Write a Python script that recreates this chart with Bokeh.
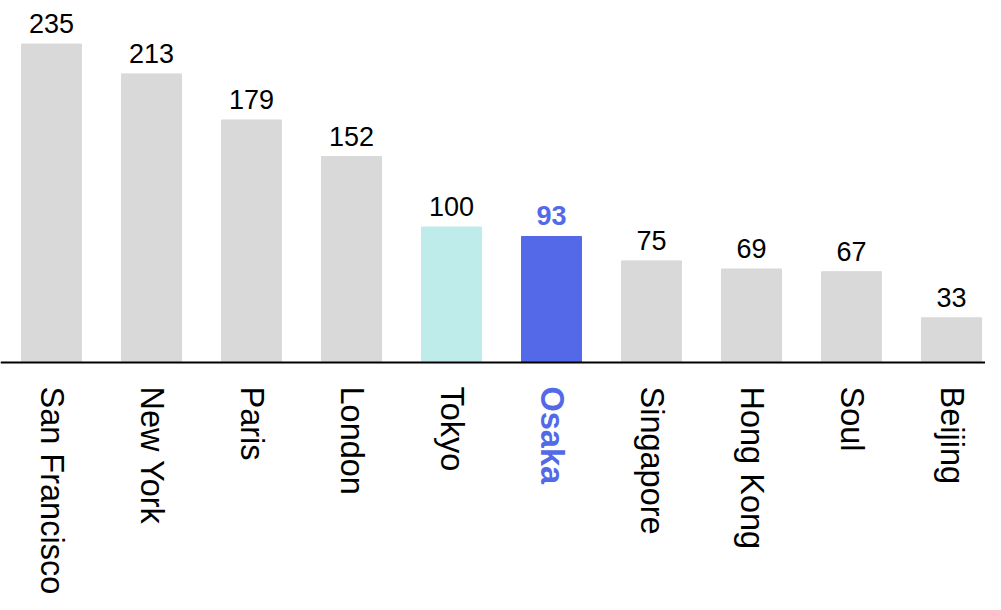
import math
from bokeh.plotting import figure
from bokeh.models import ColumnDataSource, Span
from bokeh.core.properties import value
from bokeh.embed import file_html
from bokeh.resources import INLINE

cities = ["San Francisco", "New York", "Paris", "London", "Tokyo", "Osaka",
          "Singapore", "Hong Kong", "Soul", "Beijing"]
values = [235, 213, 179, 152, 100, 93, 75, 69, 67, 33]
bar_colors = ["#d9d9d9", "#d9d9d9", "#d9d9d9", "#d9d9d9", "#bdeceb", "#5469e7",
              "#d9d9d9", "#d9d9d9", "#d9d9d9", "#d9d9d9"]
text_colors = ["#000000"] * 5 + ["#5469e7"] + ["#000000"] * 4
text_styles = ["normal"] * 5 + ["bold"] + ["normal"] * 4

xs = [i + 0.5 for i in range(len(cities))]
src = ColumnDataSource(dict(x=xs, top=values, city=cities, color=bar_colors,
                            tcolor=text_colors, tstyle=text_styles,
                            label=[str(v) for v in values]))

W, H = 985, 594
base_px = 362
scale = 1.355
y_end = base_px / scale
y_start = -(H - base_px) / scale
x_start = 0.5 - 51 / 100.0
x_end = x_start + W / 100.0

p = figure(width=W, height=H, output_backend="svg", toolbar_location=None,
           x_range=(x_start, x_end), y_range=(y_start, y_end),
           min_border=0, min_border_left=0, min_border_right=0,
           min_border_top=0, min_border_bottom=0)
p.axis.visible = False
p.grid.visible = False
p.outline_line_color = None
p.background_fill_color = "white"
p.border_fill_color = "white"

p.vbar(x="x", top="top", bottom=0, width=0.6, color="color", source=src)

p.add_layout(Span(location=0, dimension="width", line_color="black", line_width=2))

p.text(x="x", y="top", text="label", source=src, text_align="center",
       text_baseline="bottom", y_offset=-11,
       text_font=value("Liberation Sans"), text_font_size="27px",
       text_color="tcolor", text_font_style="tstyle")

p.text(x="x", y=0, text="city", source=src, angle=-math.pi / 2,
       text_align="left", text_baseline="middle", y_offset=24,
       text_font=value("Liberation Sans"), text_font_size="32.5px",
       text_color="tcolor", text_font_style="tstyle")

open("out.html", "w").write(file_html(p, INLINE))
